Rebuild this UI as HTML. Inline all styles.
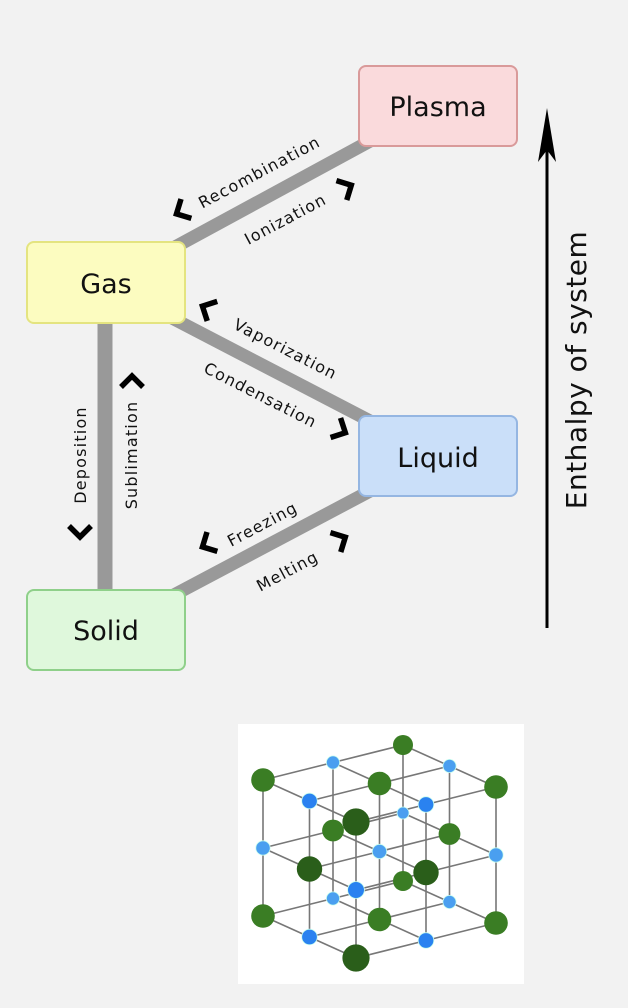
<!DOCTYPE html>
<html><head><meta charset="utf-8"><style>
html,body{margin:0;padding:0;background:#f2f2f2;}
svg{display:block;font-family:"DejaVu Sans","Liberation Sans",sans-serif;}
</style></head><body>
<svg width="628" height="1008" viewBox="0 0 628 1008" xmlns="http://www.w3.org/2000/svg">
<rect width="628" height="1008" fill="#f2f2f2"/>
<g stroke="#999" stroke-width="13" stroke-linecap="butt">
<line x1="175" y1="247" x2="372" y2="140"/>
<line x1="172" y1="318" x2="372" y2="422"/>
<line x1="172" y1="596" x2="372" y2="490"/>
<line x1="105" y1="320" x2="105" y2="592" stroke-width="15"/>
</g>
<rect x="359" y="66" width="158" height="80" rx="7" fill="#fadadc" stroke="#d99a9a" stroke-width="2"/>
<rect x="27" y="242" width="158" height="81" rx="7" fill="#fcfcc0" stroke="#e4e480" stroke-width="2"/>
<rect x="359" y="416" width="158" height="80" rx="7" fill="#cadff9" stroke="#95b6e2" stroke-width="2"/>
<rect x="27" y="590" width="158" height="80" rx="7" fill="#dff8dc" stroke="#8fd08a" stroke-width="2"/>
<g font-size="27" fill="#111" text-anchor="middle">
<text x="438" y="116">Plasma</text>
<text x="106" y="293">Gas</text>
<text x="438" y="467">Liquid</text>
<text x="106" y="640">Solid</text>
</g>
<g font-size="16" fill="#111" text-anchor="middle" letter-spacing="1.2">
<text transform="translate(262,177) rotate(-28)">Recombination</text>
<text transform="translate(288,224) rotate(-28)">Ionization</text>
<text transform="translate(283,354) rotate(27)">Vaporization</text>
<text transform="translate(258,400) rotate(27)">Condensation</text>
<text transform="translate(265,529) rotate(-28)">Freezing</text>
<text transform="translate(290,576) rotate(-28)">Melting</text>
<text transform="translate(86,455) rotate(-90)">Deposition</text>
<text transform="translate(137,455) rotate(-90)">Sublimation</text>
</g>
<g fill="none" stroke="#000" stroke-width="5.5" stroke-linejoin="miter" stroke-miterlimit="10">
<polyline points="187,201 176,212 187,223" transform="rotate(-28 180 212)"/>
<polyline points="341,177 352,188 341,199" transform="rotate(-28 346 188)"/>
<polyline points="213,297 202,308 213,319" transform="rotate(27 206 308)"/>
<polyline points="335,419 346,430 335,441" transform="rotate(27 340 430)"/>
<polyline points="213,534 202,545 213,556" transform="rotate(-28 206 545)"/>
<polyline points="335,529 346,540 335,551" transform="rotate(-28 340 540)"/>
<polyline points="69,526 80,537 91,526"/>
<polyline points="121,387 132,376 143,387"/>
</g>
<line x1="547" y1="130" x2="547" y2="628" stroke="#000" stroke-width="3"/>
<polygon points="547,108 538,162 547,150 556,162" fill="#000"/>
<text transform="translate(586,370) rotate(-90)" font-size="28" fill="#111" text-anchor="middle" letter-spacing="0.5">Enthalpy of system</text>
<rect x="238" y="724" width="286" height="260" fill="#fff"/>
<g id="lat"></g>
</svg>
<script>
(function(){
var B=[403,745],a=[-140,35],b=[93,42],c=[0,136];
function P(i,j,k){return [B[0]+i/2*a[0]+j/2*b[0]+k/2*c[0],B[1]+i/2*a[1]+j/2*b[1]+k/2*c[1]];}
var g=document.getElementById('lat'),s='';
for(var i=0;i<3;i++)for(var j=0;j<3;j++)for(var k=0;k<3;k++){
var p=P(i,j,k);
if(i<2){var q=P(i+1,j,k);s+='<line x1="'+p[0]+'" y1="'+p[1]+'" x2="'+q[0]+'" y2="'+q[1]+'" stroke="#777" stroke-width="1.6"/>';}
if(j<2){var q=P(i,j+1,k);s+='<line x1="'+p[0]+'" y1="'+p[1]+'" x2="'+q[0]+'" y2="'+q[1]+'" stroke="#777" stroke-width="1.6"/>';}
if(k<2){var q=P(i,j,k+1);s+='<line x1="'+p[0]+'" y1="'+p[1]+'" x2="'+q[0]+'" y2="'+q[1]+'" stroke="#777" stroke-width="1.6"/>';}
}
var pts=[];
for(var i=0;i<3;i++)for(var j=0;j<3;j++)for(var k=0;k<3;k++)pts.push([i,j,k]);
pts.sort(function(x,y){return (x[0]+x[1])-(y[0]+y[1]);});
pts.forEach(function(t){var p=P(t[0],t[1],t[2]);var d=t[0]+t[1];
if((t[0]+t[1]+t[2])%2==0){var r=10+d*0.9;var col=d>=3?'#2a5e1a':'#3a7d24';s+='<circle cx="'+p[0]+'" cy="'+p[1]+'" r="'+r+'" fill="'+col+'"/>';}
else{var r=6+d*0.6;var col=d>=3?'#2a82f0':'#4a9ff0';s+='<circle cx="'+p[0]+'" cy="'+p[1]+'" r="'+r+'" fill="'+col+'" stroke="#cfe" stroke-width="0.8"/>';}
});
g.innerHTML=s;
})();
</script>
</body></html>
